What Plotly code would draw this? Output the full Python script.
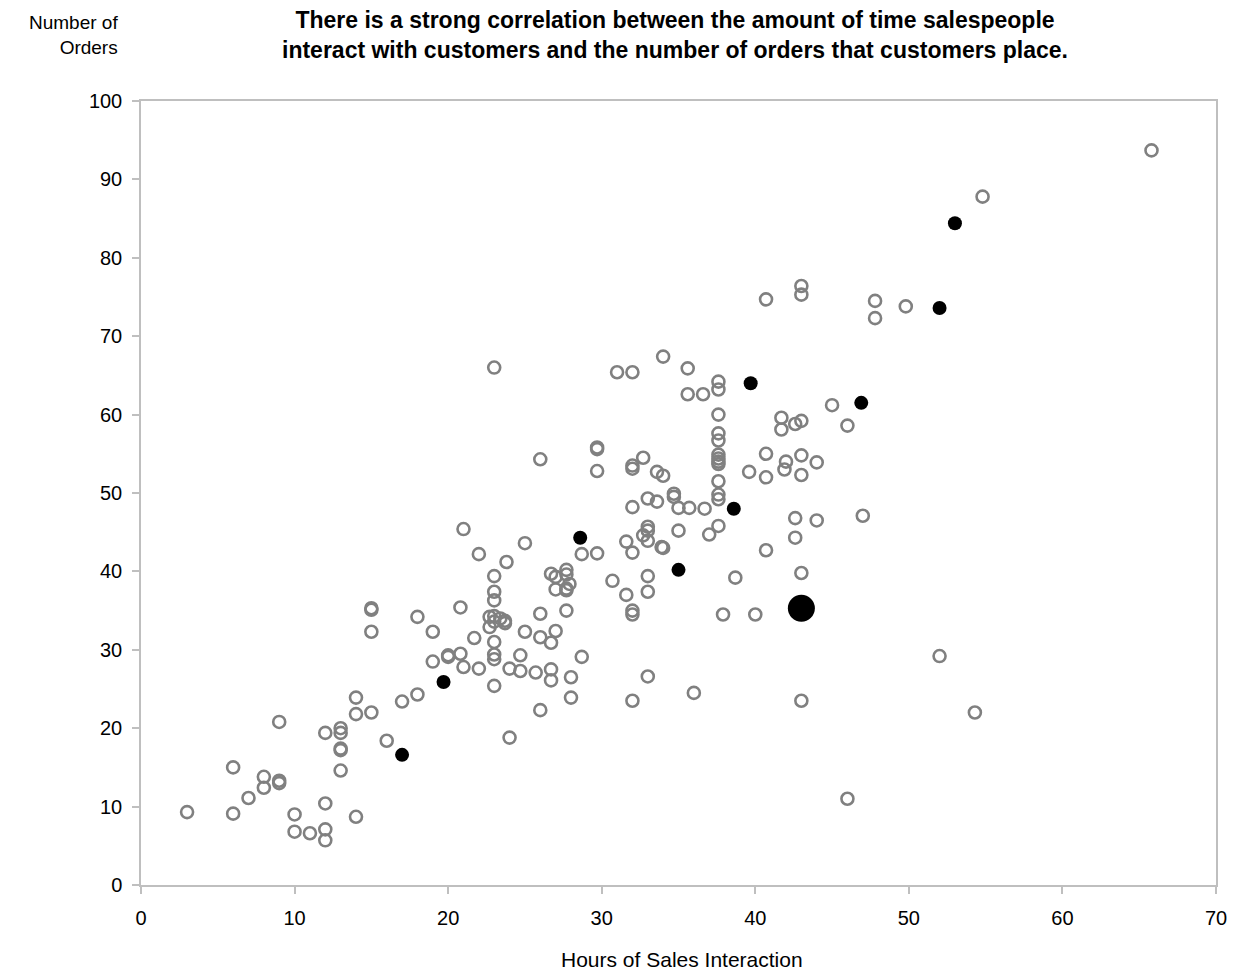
import plotly.graph_objects as go

hours_open = [3, 6, 6, 7, 8, 8, 9, 9, 9, 10, 10, 11, 12, 12, 12, 12, 13, 13, 13, 13, 13,
              14, 14, 14, 15, 15, 15, 15, 16, 17, 18, 18, 19, 19, 20, 20, 20.8, 20.8, 21, 21,
              21.7, 22, 22, 22.7, 22.7, 23, 23, 23, 23, 23, 23, 23, 23, 23, 23, 23.4, 23.7, 23.7,
              23.8, 24, 24, 24.7, 24.7, 25, 25, 25.7, 26, 26, 26, 26, 26.7, 26.7, 26.7, 26.7,
              27, 27, 27, 27.7, 27.7, 27.7, 27.7, 27.7, 27.9, 28, 28, 28.7, 28.7,
              29.7, 29.7, 29.7, 29.7, 30.7, 31, 31.6, 31.6, 32, 32, 32, 32, 32, 32, 32, 32,
              32.7, 32.7, 33, 33, 33, 33, 33, 33, 33, 33.6, 33.6, 33.9, 34, 34, 34,
              34.7, 34.7, 35, 35, 35.6, 35.6, 35.7, 36, 36.6, 36.7, 37,
              37.6, 37.6, 37.6, 37.6, 37.6, 37.6, 37.6, 37.6, 37.6, 37.6, 37.6, 37.6, 37.6,
              37.9, 38.7, 39.6, 40, 40.7, 40.7, 40.7, 40.7, 41.7, 41.7, 41.9, 42,
              42.6, 42.6, 42.6, 43, 43, 43, 43, 43, 43, 43, 44, 44, 45, 46, 46, 47,
              47.8, 47.8, 49.8, 52, 54.3, 54.8, 65.8]
orders_open = [9.3, 15, 9.1, 11.1, 13.8, 12.4, 20.8, 13.3, 13, 9, 6.8, 6.6, 19.4, 10.4, 7.1, 5.7,
               20, 19.4, 17.4, 17.2, 14.6,
               23.9, 21.8, 8.7, 35.3, 35.1, 32.3, 22, 18.4, 23.4, 34.2, 24.3, 32.3, 28.5, 29.3, 29.1,
               35.4, 29.5, 45.4, 27.8,
               31.5, 42.2, 27.6, 34.2, 32.9, 66, 39.4, 37.4, 36.3, 34.3, 33.6, 31, 29.4, 28.8, 25.4,
               34, 33.7, 33.4,
               41.2, 27.6, 18.8, 29.3, 27.3, 43.6, 32.3, 27.1, 54.3, 34.6, 31.6, 22.3, 39.7, 30.9, 27.5, 26.1,
               39.3, 37.7, 32.4, 40.2, 39.6, 37.8, 37.6, 35, 38.4, 26.5, 23.9, 42.2, 29.1,
               55.8, 55.6, 52.8, 42.3, 38.8, 65.4, 43.8, 37, 65.4, 53.5, 53.1, 48.2, 42.4, 35, 34.5, 23.5,
               54.5, 44.6, 49.3, 45.7, 45.2, 43.9, 39.4, 37.4, 26.6, 52.7, 48.9, 43.1, 67.4, 52.2, 43,
               49.9, 49.5, 48.1, 45.2, 65.9, 62.6, 48.1, 24.5, 62.6, 48, 44.7,
               64.2, 63.2, 60, 57.6, 56.7, 54.9, 54.4, 54, 53.7, 51.5, 49.8, 49.2, 45.8,
               34.5, 39.2, 52.7, 34.5, 74.7, 55, 52, 42.7, 59.6, 58.1, 53, 54,
               58.8, 46.8, 44.3, 76.4, 75.3, 59.2, 54.8, 52.3, 39.8, 23.5, 53.9, 46.5, 61.2, 58.6, 11, 47.1,
               74.5, 72.3, 73.8, 29.2, 22, 87.8, 93.7]

hours_highlight = [17, 19.7, 28.6, 35, 38.6, 39.7, 46.9, 52, 53]
orders_highlight = [16.6, 25.9, 44.3, 40.2, 48, 64, 61.5, 73.6, 84.4]

hours_focus = [43]
orders_focus = [35.3]

x_ticks = [0, 10, 20, 30, 40, 50, 60, 70]
y_ticks = [0, 10, 20, 30, 40, 50, 60, 70, 80, 90, 100]

title_text = ("<b>There is a strong correlation between the amount of time salespeople<br>"
              "interact with customers and the number of orders that customers place.</b>")
y_title_text = "Number of<br>Orders"
x_title_text = "Hours of Sales Interaction"

FONT = "Liberation Sans, Arial, sans-serif"

fig = go.Figure()
fig.add_trace(go.Scatter(
    x=hours_open, y=orders_open, mode="markers",
    marker=dict(symbol="circle-open", size=12, color="#808080", line=dict(width=2.6, color="#808080")),
    showlegend=False))
fig.add_trace(go.Scatter(
    x=hours_highlight, y=orders_highlight, mode="markers",
    marker=dict(symbol="circle", size=14, color="#000000"),
    showlegend=False))
fig.add_trace(go.Scatter(
    x=hours_focus, y=orders_focus, mode="markers",
    marker=dict(symbol="circle", size=27, color="#000000"),
    showlegend=False))

fig.update_layout(
    width=1230, height=966,
    margin=dict(l=133, r=22, t=93, b=89),
    paper_bgcolor="white", plot_bgcolor="white",
    font=dict(family=FONT, size=20, color="#000000"),
    annotations=[
        dict(text=title_text, xref="paper", yref="paper", x=0.5, y=1, xshift=-4, yshift=66,
             xanchor="center", yanchor="middle", showarrow=False,
             font=dict(family=FONT, size=23, color="#000000"), align="center"),
        dict(text=y_title_text, xref="paper", yref="paper", x=0, y=1,
             xshift=-21, yshift=66, xanchor="right", yanchor="middle", showarrow=False,
             font=dict(family=FONT, size=19, color="#000000"), align="right"),
        dict(text=x_title_text, xref="paper", yref="paper", x=0.5, y=0,
             xshift=3, yshift=-74, xanchor="center", yanchor="middle", showarrow=False,
             font=dict(family=FONT, size=21, color="#000000")),
    ],
    xaxis=dict(range=[0, 70], tickvals=x_ticks, showgrid=False, zeroline=False,
               automargin=False,
               showline=True, linecolor="#bfbfbf", linewidth=1.5, mirror=True,
               ticks="outside", ticklen=7, tickcolor="#bfbfbf", tickwidth=1.5,
               ticklabelstandoff=7, tickfont=dict(size=20)),
    yaxis=dict(range=[0, 100], tickvals=y_ticks, showgrid=False, zeroline=False,
               automargin=False,
               showline=True, linecolor="#bfbfbf", linewidth=1.5, mirror=True,
               ticks="outside", ticklen=7, tickcolor="#bfbfbf", tickwidth=1.5,
               ticklabelstandoff=6, tickfont=dict(size=20)),
)

fig.write_html("out.html")
